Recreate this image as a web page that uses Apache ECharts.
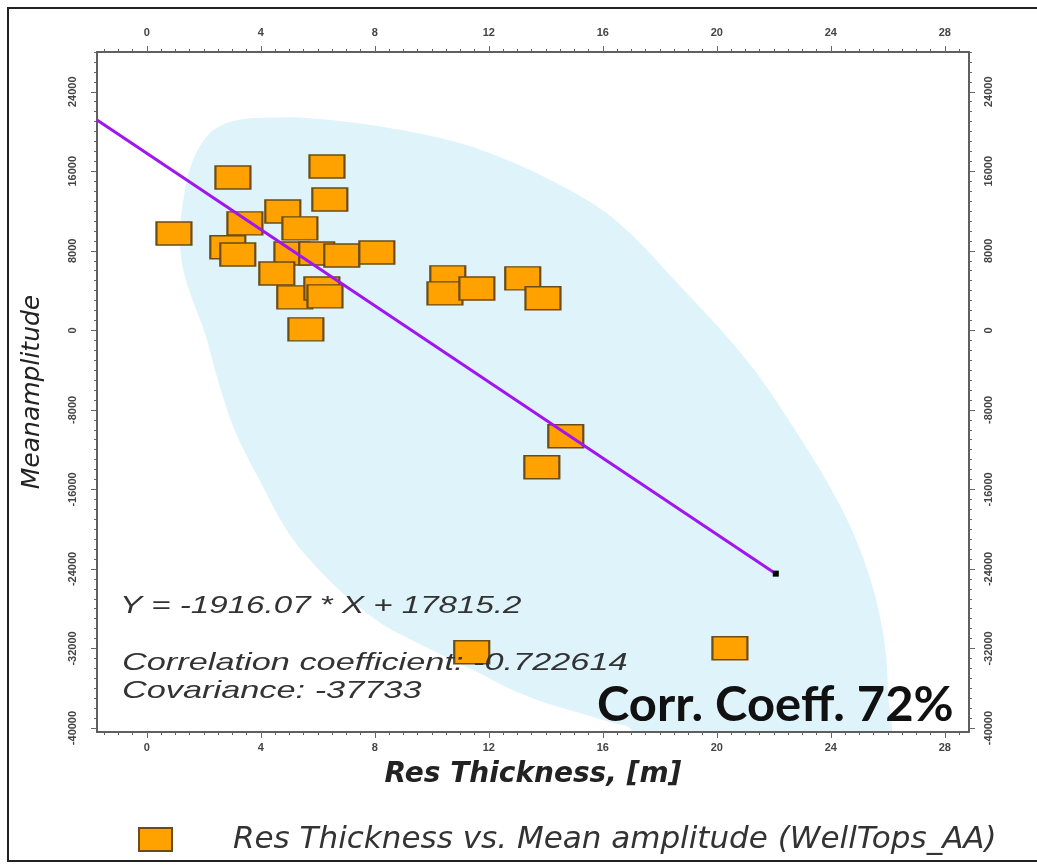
<!DOCTYPE html>
<html>
<head>
<meta charset="utf-8">
<title>Res Thickness vs Mean amplitude</title>
<script src="https://cdn.jsdelivr.net/npm/echarts@6/dist/echarts.min.js"></script>
<style>
  html, body { margin: 0; padding: 0; background: #fff; }
  #chart { width: 1037px; height: 865px; }
</style>
</head>
<body>
<div id="chart"></div>
<script>
// well points: res thickness [m] / mean amplitude
const thickness = [0.95, 3.02, 6.32, 6.42, 4.77, 3.44, 5.37, 2.84, 3.19, 5.09, 5.96, 6.84, 8.07, 4.56,
  5.19, 6.14, 6.25, 5.58, 10.56, 10.46, 11.58, 13.19, 13.9, 14.7, 13.86, 11.4, 20.46];
const amplitude = [9750, 15380, 16490, 13170, 11960, 10760, 10260, 8350, 7640, 7740, 7740, 7540, 7840, 5730,
  3320, 4220, 3420, 100, 5330, 3720, 4220, 5230, 3220, -10660, -13770, -32370, -31970];

// regression line end points
const fitX = [-1.75, 22.07];
const fitY = [21170, -24470];

// shaded envelope outline
const blobX = [2.1, 2.6, 3.3, 4.3, 5.37, 7.72, 10.04, 11.68, 14.04, 16.35, 18.70, 21.05, 22.81, 24.32, 25.26,
  25.82, 26.0, 25.86, 17.30, 16.95, 16.35, 15.19, 14.04, 12.84, 11.68, 10.53, 9.33, 8.18, 7.02, 5.82,
  4.91, 3.96, 3.09, 2.49, 2.04, 1.61, 1.26, 1.16, 1.3, 1.6];
const blobY = [19500, 20600, 21200, 21400, 21400, 20700, 19500, 18200, 15300, 11300, 4500, -3000, -10300, -17600, -23900,
  -30200, -36200, -41700, -41700, -40000, -39500, -38500, -37500, -36200, -34500, -32900, -31200, -29400, -26800, -23400,
  -20100, -15100, -10100, -5000, -300, 3000, 6300, 9700, 13500, 17000];

const xTicks = [0, 4, 8, 12, 16, 20, 24, 28];
const yTicks = [24000, 16000, 8000, 0, -8000, -16000, -24000, -32000, -40000];

const X_MIN = -1.75, X_MAX = 28.85, Y_MIN = -40400, Y_MAX = 28000;
const SERIES_NAME = 'Res Thickness vs. Mean amplitude (WellTops_AA)';

let xMinor = [];
for (let v = -1.5; v <= X_MAX; v += 0.5) xMinor.push(v);
let yMinor = [];
for (let v = -40000; v <= Y_MAX; v += 1000) yMinor.push(v);

const labelStyle = { color: '#444', fontSize: 11, fontFamily: 'Liberation Sans', fontWeight: 'bold' };

function xAxis(position, major) {
  return {
    type: 'value', position: position, min: X_MIN, max: X_MAX,
    axisLine: { show: true, onZero: false, lineStyle: { color: '#555', width: 1.5 } },
    axisTick: { show: true, inside: false, length: major ? 6 : 3, customValues: major ? xTicks : xMinor,
      lineStyle: { color: '#666' } },
    axisLabel: { show: major, customValues: xTicks, margin: position === 'top' ? 14 : 10, ...labelStyle },
    splitLine: { show: false }
  };
}

function yAxis(position, major) {
  return {
    type: 'value', position: position, min: Y_MIN, max: Y_MAX,
    axisLine: { show: true, onZero: false, lineStyle: { color: '#555', width: 1.5 } },
    axisTick: { show: true, inside: false, length: major ? 6 : 3, customValues: major ? yTicks : yMinor,
      lineStyle: { color: '#666' } },
    axisLabel: { show: major, customValues: yTicks, rotate: 90, margin: position === 'left' ? 19 : 14,
      formatter: v => String(v), ...labelStyle },
    splitLine: { show: false }
  };
}

let xBottom = xAxis('bottom', true);
xBottom.name = 'Res Thickness, [m]';
xBottom.nameLocation = 'middle';
xBottom.nameGap = 29;
xBottom.nameTextStyle = { fontFamily: 'DejaVu Sans', fontStyle: 'italic', fontWeight: 'bold', fontSize: 28, color: '#222' };

let yLeft = yAxis('left', true);
yLeft.name = 'Meanamplitude';
yLeft.nameLocation = 'middle';
yLeft.nameGap = 52;
yLeft.nameTextStyle = { fontFamily: 'DejaVu Sans', fontStyle: 'italic', fontSize: 25, color: '#222' };

const textFont = { fontFamily: 'Liberation Sans', fontStyle: 'italic', fontSize: 24, fill: '#333' };

const option = {
  backgroundColor: '#fff',
  animation: false,
  grid: { left: 97, right: 68, top: 52, bottom: 133 },
  xAxis: [xBottom, xAxis('bottom', false), xAxis('top', true), xAxis('top', false)],
  yAxis: [yLeft, yAxis('left', false), yAxis('right', true), yAxis('right', false)],
  legend: {
    data: [SERIES_NAME], left: 133, top: 819, itemWidth: 33, itemHeight: 23,
    textStyle: { fontFamily: 'DejaVu Sans', fontStyle: 'italic', fontSize: 31, color: '#333', padding: [0, 0, 0, 56] }
  },
  graphic: [
    { type: 'rect', z: -10, shape: { x: 8, y: 8, width: 1060, height: 853 }, style: { fill: 'none', stroke: '#222', lineWidth: 2 } },
    { type: 'text', left: 120, top: 594, scaleX: 1.38, style: Object.assign({ text: 'Y = -1916.07 * X + 17815.2' }, textFont), z: 5 },
    { type: 'text', left: 122, top: 651, scaleX: 1.43, style: Object.assign({ text: 'Correlation coefficient: -0.722614' }, textFont), z: 5 },
    { type: 'text', left: 122, top: 679, scaleX: 1.43, style: Object.assign({ text: 'Covariance: -37733' }, textFont), z: 5 },
    { type: 'text', left: 597, top: 682, scaleX: 1.02, style: { text: 'Corr. Coeff. 72%', fontFamily: 'Lato', fontWeight: 'bold', fontSize: 48, fill: '#111' }, z: 5 }
  ],
  series: [
    {
      type: 'custom', name: 'envelope', silent: true, z: 0,
      data: blobX.map((x, i) => [x, blobY[i]]),
      renderItem: function (params, api) {
        if (params.dataIndex !== 0) return null;
        const pts = blobX.map((x, i) => api.coord([x, blobY[i]]));
        const cs = params.coordSys;
        return {
          type: 'polygon',
          shape: { points: pts, smooth: 0.35 },
          style: { fill: '#dff3fb', stroke: 'none' },
          clipPath: { type: 'rect', shape: { x: cs.x, y: cs.y, width: cs.width, height: cs.height } }
        };
      }
    },
    {
      type: 'scatter', name: SERIES_NAME, z: 3,
      symbol: 'rect', symbolSize: [35, 23],
      itemStyle: { color: '#ffa200', opacity: 1, borderColor: '#6b4c12', borderWidth: 1.8 },
      data: thickness.map((x, i) => [x, amplitude[i]])
    },
    {
      type: 'line', name: 'fit', z: 4,
      symbol: 'none',
      lineStyle: { color: '#a015f0', width: 3 },
      data: [
        [fitX[0], fitY[0]],
        { value: [fitX[1], fitY[1]], symbol: 'rect', symbolSize: 6, itemStyle: { color: '#000' } }
      ]
    }
  ]
};

const chart = echarts.init(document.getElementById('chart'));
chart.setOption(option);
</script>
</body>
</html>
